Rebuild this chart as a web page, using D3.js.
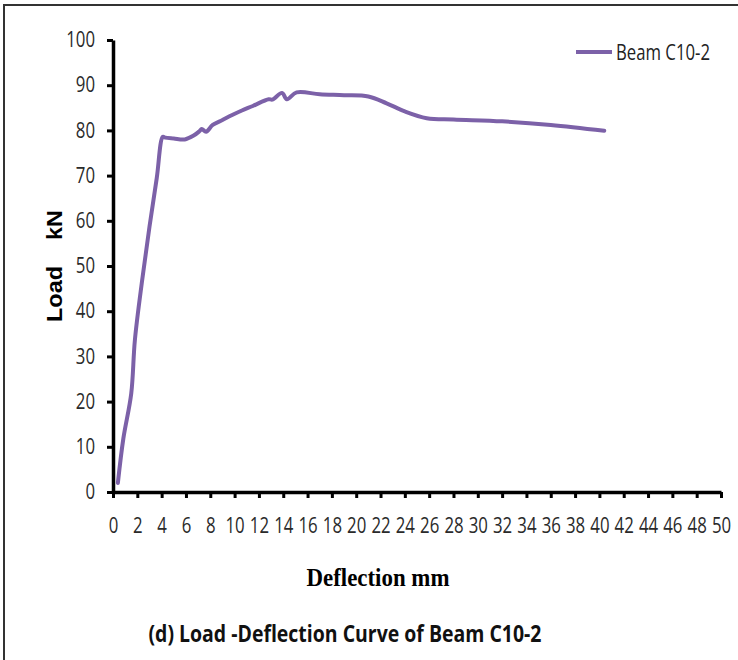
<!DOCTYPE html>
<html>
<head>
<meta charset="utf-8">
<script src="https://cdn.jsdelivr.net/npm/d3@7"></script>
<style>
body { margin:0; background:#fff; }
svg { display:block; }
.tick text { font-family:"Open Sans",sans-serif; font-size:21px; fill:#2a2a2a; }
</style>
</head>
<body>
<svg width="738" height="660"></svg>
<script>
// data
const deflection = [0.4, 0.85, 1.5, 1.8, 2.4, 3.0, 3.6, 4.1, 4.3, 5.0, 5.9, 6.6, 7.1, 7.3, 7.65, 8.2, 9.0, 9.8, 10.6, 11.5, 12.8, 13.1, 13.9, 14.3, 15.1, 17.0, 19.0, 21.0, 22.5, 24.0, 25.8, 28.0, 32.0, 36.0, 40.4]
const load = [2.0, 11.8, 21.8, 33.6, 46.9, 58.7, 69.5, 78.6, 78.4, 78.2, 78.0, 78.8, 79.8, 80.3, 79.7, 81.2, 82.3, 83.4, 84.4, 85.4, 86.9, 86.8, 88.3, 86.9, 88.4, 88.0, 87.8, 87.5, 86.0, 84.2, 82.7, 82.4, 82.0, 81.2, 79.9]

const xTicks = d3.range(0, 51, 2)
const yTicks = d3.range(0, 101, 10)
const seriesName = "Beam C10-2"

const data = deflection.map((d,i)=>{ return {x:d, y:load[i]} })

const svg = d3.select("svg")
const lineColor = "#7c61a8"

//frame round the figure
svg.append("path")
	.attr("d", "M4,660 V5 H738")
	.attr("fill", "none")
	.attr("stroke", "#333")
	.attr("stroke-width", 2)

//scales
const xScale = d3.scaleLinear()
	.domain([0, 50])
	.range([113, 721])

const yScale = d3.scaleLinear()
	.domain([0, 100])
	.range([492, 40])

//axes
svg.append("g")
	.attr("transform", "translate(0,492)")
	.call(d3.axisBottom(xScale).tickValues(xTicks).tickSize(6).tickPadding(20).tickSizeOuter(0))

svg.append("g")
	.attr("transform", "translate(113,0)")
	.call(d3.axisLeft(yScale).tickValues(yTicks).tickSize(6).tickPadding(12).tickSizeOuter(0))

svg.selectAll(".domain")
	.attr("stroke", "#000")
	.attr("stroke-width", 3.5)
svg.selectAll(".tick line")
	.attr("stroke", "#000")
	.attr("stroke-width", 3)

//squeeze the labels a bit, the original font is narrow
svg.selectAll(".tick text")
	.attr("textLength", function () { return this.textContent.length * 9.6 })
	.attr("lengthAdjust", "spacingAndGlyphs")

//line
const line = d3.line()
	.x((d,i)=>{return xScale(d.x)})
	.y((d,i)=>{return yScale(d.y)})
	.curve(d3.curveCatmullRom.alpha(0.5))

svg.append("path")
	.datum(data)
	.attr("d", line)
	.attr("fill", "none")
	.attr("stroke", lineColor)
	.attr("stroke-width", 4)
	.attr("stroke-linejoin", "round")
	.attr("stroke-linecap", "round")

//legend
svg.append("line")
	.attr("x1", 576)
	.attr("x2", 612)
	.attr("y1", 52)
	.attr("y2", 52)
	.attr("stroke", lineColor)
	.attr("stroke-width", 4)

svg.append("text")
	.attr("x", 616)
	.attr("y", 60)
	.style("font-family", '"Open Sans",sans-serif')
	.style("font-size", "21px")
	.attr("textLength", 94)
	.attr("lengthAdjust", "spacingAndGlyphs")
	.attr("fill", "#222")
	.text(seriesName)

//axis titles
svg.append("text")
	.attr("transform", "translate(62,266) rotate(-90)")
	.attr("text-anchor", "middle")
	.style("font-family", '"Liberation Sans",Arial,sans-serif')
	.style("font-weight", "bold")
	.style("font-size", "22px")
	.style("white-space", "pre")
	.attr("textLength", 112)
	.attr("lengthAdjust", "spacingAndGlyphs")
	.text("Load    kN")

svg.append("text")
	.attr("x", 378)
	.attr("y", 586)
	.attr("text-anchor", "middle")
	.style("font-family", '"Liberation Serif","Times New Roman",serif')
	.style("font-weight", "bold")
	.style("font-size", "26px")
	.attr("textLength", 143)
	.attr("lengthAdjust", "spacingAndGlyphs")
	.text("Deflection mm")

//caption
svg.append("text")
	.attr("x", 345)
	.attr("y", 642)
	.attr("text-anchor", "middle")
	.style("font-family", '"Open Sans",sans-serif')
	.style("font-weight", "bold")
	.style("font-size", "24px")
	.attr("textLength", 393)
	.attr("lengthAdjust", "spacingAndGlyphs")
	.attr("fill", "#111")
	.text("(d) Load -Deflection Curve of Beam C10-2")
</script>
</body>
</html>
